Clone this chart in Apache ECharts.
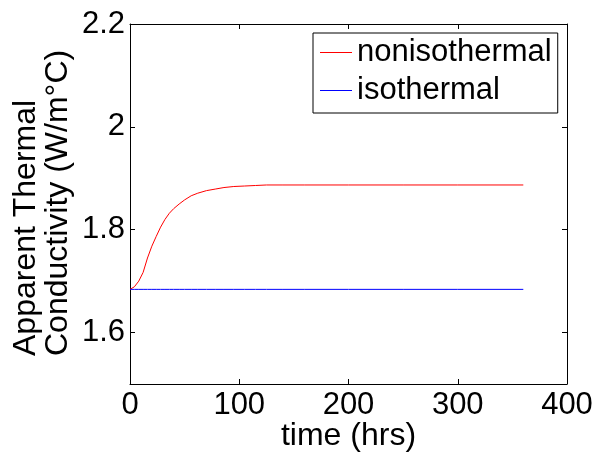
<!DOCTYPE html>
<html>
<head>
<meta charset="utf-8">
<script src="https://cdn.jsdelivr.net/npm/echarts@6/dist/echarts.min.js"></script>
<style>
  html, body { margin: 0; padding: 0; background: #fff; }
  #chart { width: 601px; height: 453px; }
</style>
</head>
<body>
<div id="chart"></div>
<script>
// time axis (hrs)
const timeHrs = [0, 4, 8, 12, 16, 20, 24, 28, 32, 36, 40, 45, 50, 56, 62, 70, 78, 86, 95, 105, 115, 125, 140, 160, 200, 250, 300, 360]
// apparent thermal conductivity (W/m°C)
const nonisothermal = [1.684, 1.689, 1.700, 1.717, 1.745, 1.768, 1.787, 1.805, 1.820, 1.832, 1.841, 1.850, 1.858, 1.866, 1.871, 1.876, 1.879, 1.882, 1.884, 1.885, 1.886, 1.887, 1.887, 1.887, 1.887, 1.887, 1.887, 1.887]
const isothermal = [1.684, 1.684, 1.684, 1.684, 1.684, 1.684, 1.684, 1.684, 1.684, 1.684, 1.684, 1.684, 1.684, 1.684, 1.684, 1.684, 1.684, 1.684, 1.684, 1.684, 1.684, 1.684, 1.684, 1.684, 1.684, 1.684, 1.684, 1.684]
const yTicks = [1.6, 1.8, 2.0, 2.2]
const xTitle = 'time (hrs)'
const yTitle = 'Apparent Thermal\nConductivity (W/m°C)'

const font = 'Liberation Sans, Arial, sans-serif'
const pair = (xs, ys) => xs.map((x, i) => [x, ys[i]])

const chart = echarts.init(document.getElementById('chart'))

const baseX = {
  type: 'value',
  min: 0,
  max: 400,
  interval: 100,
  splitLine: { show: false },
  axisLine: { show: true, onZero: false, lineStyle: { color: '#000', width: 1 } },
  axisTick: { show: true, inside: true, length: 5, lineStyle: { color: '#000' } },
}
const baseY = {
  type: 'value',
  min: 1.5,
  max: 2.2,
  splitLine: { show: false },
  axisLine: { show: true, onZero: false, lineStyle: { color: '#000', width: 1 } },
  axisTick: { show: true, inside: true, length: 5, customValues: yTicks, lineStyle: { color: '#000' } },
}

chart.setOption({
  animation: false,
  backgroundColor: '#fff',
  textStyle: { fontFamily: font },
  grid: { left: 130, right: 34, top: 24, bottom: 69, outerBoundsMode: 'none' },
  xAxis: [
    {
      ...baseX,
      position: 'bottom',
      name: xTitle,
      nameLocation: 'middle',
      nameGap: 36,
      nameMoveOverlap: false,
      nameTextStyle: { fontSize: 32, color: '#000', fontFamily: font },
      axisLabel: { fontSize: 31, color: '#000', margin: 6, fontFamily: font },
    },
    { ...baseX, position: 'top', axisLabel: { show: false } },
  ],
  yAxis: [
    {
      ...baseY,
      position: 'left',
      axisLabel: { fontSize: 31, color: '#000', margin: 5, customValues: yTicks, fontFamily: font },
    },
    { ...baseY, position: 'right', axisLabel: { show: false } },
  ],
  legend: {
    orient: 'vertical',
    left: 313,
    top: 33,
    padding: [4, 6, 7, 7],
    itemGap: 7,
    itemWidth: 32,
    itemHeight: 1,
    icon: 'rect',
    borderColor: '#000',
    borderWidth: 1,
    borderRadius: 0,
    textStyle: { fontSize: 31, color: '#000', fontFamily: font },
    data: ['nonisothermal', 'isothermal'],
  },
  graphic: [
    {
      type: 'text',
      x: 10,
      y: 356,
      rotation: Math.PI / 2,
      style: {
        text: yTitle,
        font: '32px ' + font,
        lineHeight: 32,
        fill: '#000',
        textAlign: 'left',
        textVerticalAlign: 'top',
      },
    },
  ],
  series: [
    {
      name: 'nonisothermal',
      type: 'line',
      symbol: 'none',
      color: '#ff0000',
      lineStyle: { width: 1, color: '#ff0000' },
      data: pair(timeHrs, nonisothermal),
    },
    {
      name: 'isothermal',
      type: 'line',
      symbol: 'none',
      color: '#0000ff',
      lineStyle: { width: 1, color: '#0000ff' },
      data: pair(timeHrs, isothermal),
    },
  ],
})
</script>
</body>
</html>
